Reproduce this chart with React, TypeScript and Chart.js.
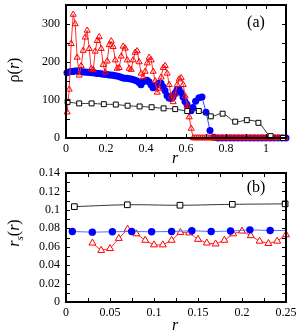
import React, { useEffect, useRef } from 'react';
import { Chart, registerables } from 'chart.js';
Chart.register(...registerables);

// ---------- Panel (a): density profiles ----------
const aRedR = [
  0.006, 0.016, 0.026, 0.036, 0.046, 0.056, 0.066, 0.076, 0.086, 0.096,
  0.106, 0.116, 0.126, 0.136, 0.146, 0.156, 0.166, 0.176, 0.186, 0.196,
  0.206, 0.216, 0.226, 0.236, 0.246, 0.256, 0.266, 0.276, 0.286, 0.296,
  0.306, 0.316, 0.326, 0.336, 0.346, 0.356, 0.366, 0.376, 0.386, 0.396,
  0.406, 0.416, 0.426, 0.436, 0.446, 0.456, 0.466, 0.476, 0.486, 0.496,
  0.506, 0.516, 0.526, 0.536, 0.546, 0.556, 0.566, 0.576, 0.586, 0.596,
  0.606, 0.616, 0.626, 0.636, 0.646, 0.656, 0.666, 0.676, 0.686, 0.696,
  0.706, 0.716, 0.726, 0.736, 0.746, 0.756, 0.766, 0.776, 0.786, 0.796,
  0.806, 0.816, 0.826, 0.836, 0.846, 0.856, 0.866, 0.876, 0.886, 0.896,
  0.906, 0.916, 0.926, 0.936, 0.946, 0.956, 0.966, 0.976, 0.986, 0.996,
  1.006, 1.016, 1.026, 1.036, 1.046, 1.056, 1.066, 1.076, 1.086, 1.096,
];
const aRedRho = [
  68, 128, 248, 325, 300, 212, 165, 190, 230, 265,
  283, 235, 182, 180, 228, 256, 266, 235, 193, 173,
  202, 245, 255, 240, 205, 183, 185, 215, 241, 236,
  205, 183, 180, 205, 225, 229, 200, 170, 160, 175,
  197, 212, 205, 175, 150, 120, 130, 160, 185, 190,
  170, 140, 110, 95, 115, 140, 155, 158, 140, 110,
  85, 55, 25, 0, 0, 0, 0, 0, 0, 0,
  0, 0, 0, 0, 0, 0, 0, 0, 0, 0,
  0, 0, 0, 0, 0, 0, 0, 0, 0, 0,
  0, 0, 0, 0, 0, 0, 0, 0, 0, 0,
  0, 0, 0, 0, 0, 0, 0, 0, 0, 0,
];

const aBlueR = [
  0.005, 0.015, 0.025, 0.035, 0.045, 0.055, 0.065, 0.075, 0.085, 0.095,
  0.105, 0.115, 0.125, 0.135, 0.145, 0.155, 0.165, 0.175, 0.185, 0.195,
  0.205, 0.215, 0.225, 0.235, 0.245, 0.255, 0.265, 0.275, 0.285, 0.295,
  0.305, 0.315, 0.325, 0.335, 0.345, 0.355, 0.365, 0.375, 0.385, 0.395,
  0.405, 0.415, 0.425, 0.435, 0.445, 0.455, 0.465, 0.475, 0.485, 0.495,
  0.505, 0.515, 0.525, 0.535, 0.545, 0.555, 0.565, 0.575, 0.585, 0.595,
  0.605, 0.615, 0.625, 0.635, 0.648, 0.665, 0.68, 0.7, 0.72, 0.74,
  0.76, 0.78, 0.8, 0.82, 0.84, 0.86, 0.88, 0.9, 0.92, 0.94,
  0.96, 0.98, 1.0, 1.02, 1.04, 1.06, 1.08, 1.1,
];
const aBlueRho = [
  172, 174, 175, 175, 176, 176, 175, 175, 174, 174,
  173, 173, 172, 172, 171, 170, 170, 169, 168, 168,
  167, 166, 166, 165, 164, 163, 162, 160, 158, 157,
  157, 156, 155, 154, 152, 150, 146, 140, 148, 150,
  152, 148, 140, 132, 135, 140, 145, 144, 135, 125,
  112, 105, 104, 108, 118, 127, 128, 120, 108, 96,
  88, 75, 72, 80, 97, 106, 108, 68, 20, 2,
  0, 0, 0, 0, 0, 0, 0, 0, 0, 0,
  0, 0, 0, 0, 0, 0, 0, 0,
];

const aBlackR = [
  0.008, 0.066, 0.128, 0.189, 0.249, 0.308, 0.368, 0.428, 0.488, 0.546,
  0.606, 0.664, 0.724, 0.783, 0.846, 0.904, 0.962, 1.023, 1.085,
];
const aBlackRho = [
  95, 91, 91, 89, 88, 85, 83, 81, 78, 76,
  71, 71, 57, 64, 43, 47, 40, 5, 0,
];

const aXLabels = [0, 0.2, 0.4, 0.6, 0.8, 1];
const aYLabels = [0, 100, 200, 300];
const aXMarks = [0.1, 0.2, 0.3, 0.4, 0.5, 0.6, 0.7, 0.8, 0.9, 1.0];
const aYMarks = [50, 100, 150, 200, 250, 300];

// ---------- Panel (b): r_s(r) ----------
const bBlackR = [0.0095, 0.0697, 0.1295, 0.189, 0.249];
const bBlackV = [0.1035, 0.1055, 0.105, 0.106, 0.1065];

const bBlueR = [0.0072, 0.0299, 0.0527, 0.0746, 0.0973, 0.12, 0.143, 0.165, 0.187, 0.209, 0.232, 0.25];
const bBlueV = [0.0765, 0.0758, 0.0762, 0.0765, 0.0762, 0.0765, 0.0773, 0.0765, 0.077, 0.0783, 0.0776, 0.0775];

const bRedR = [
  0.03, 0.04, 0.05, 0.06, 0.07, 0.08, 0.09, 0.1, 0.11, 0.12,
  0.13, 0.14, 0.15, 0.16, 0.17, 0.18, 0.19, 0.2, 0.21, 0.22,
  0.23, 0.24, 0.25,
];
const bRedV = [
  0.064, 0.056, 0.058, 0.069, 0.079, 0.074, 0.067, 0.062, 0.062, 0.067,
  0.0755, 0.075, 0.068, 0.064, 0.063, 0.067, 0.074, 0.077, 0.072, 0.066,
  0.0635, 0.066, 0.073,
];

const bXLabels = [0, 0.05, 0.1, 0.15, 0.2, 0.25];
const bYLabels = [0, 0.02, 0.04, 0.06, 0.08, 0.1, 0.12, 0.14];
const bXMarks = [0.025, 0.05, 0.075, 0.1, 0.125, 0.15, 0.175, 0.2, 0.225];
const bYMarks = [0.01, 0.02, 0.03, 0.04, 0.05, 0.06, 0.07, 0.08, 0.09, 0.1, 0.11, 0.12, 0.13];

const SERIF = '"Liberation Serif", "DejaVu Serif", serif';

type Run = { t: string; italic?: boolean; size?: number; dy?: number };

function drawRuns(ctx: CanvasRenderingContext2D, runs: Run[], cx: number, cy: number, rot: number, base: number) {
  ctx.save();
  ctx.translate(cx, cy);
  ctx.rotate(rot);
  ctx.textBaseline = 'alphabetic';
  ctx.textAlign = 'left';
  let total = 0;
  const widths: number[] = [];
  for (const r of runs) {
    ctx.font = `${r.italic ? 'italic ' : ''}${r.size || base}px ${SERIF}`;
    const w = ctx.measureText(r.t).width;
    widths.push(w);
    total += w;
  }
  let x = -total / 2;
  runs.forEach((r, i) => {
    ctx.font = `${r.italic ? 'italic ' : ''}${r.size || base}px ${SERIF}`;
    ctx.fillText(r.t, x, base * 0.32 + (r.dy || 0));
    x += widths[i];
  });
  ctx.restore();
}

const framePlugin = {
  id: 'frame',
  afterDatasetsDraw(chart: any, _args: any, opts: any) {
    const { ctx, chartArea: a, scales } = chart;
    const xs = scales.x;
    const ys = scales.y;
    const tl = opts.tickLen;
    ctx.save();
    ctx.strokeStyle = '#000';
    ctx.lineWidth = 1;
    ctx.beginPath();
    for (const v of opts.xMarks) {
      const px = Math.round(xs.getPixelForValue(v)) + 0.5;
      ctx.moveTo(px, a.bottom);
      ctx.lineTo(px, a.bottom - tl);
      ctx.moveTo(px, a.top);
      ctx.lineTo(px, a.top + tl);
    }
    for (const v of opts.yMarks) {
      const py = Math.round(ys.getPixelForValue(v)) + 0.5;
      ctx.moveTo(a.left, py);
      ctx.lineTo(a.left + tl, py);
      ctx.moveTo(a.right, py);
      ctx.lineTo(a.right - tl, py);
    }
    ctx.stroke();
    ctx.lineWidth = 2;
    ctx.strokeRect(a.left, a.top, a.right - a.left, a.bottom - a.top);
    ctx.fillStyle = '#000';
    ctx.font = `16px ${SERIF}`;
    ctx.textAlign = 'center';
    ctx.textBaseline = 'middle';
    ctx.fillText(opts.label, opts.labelX, opts.labelY);
    drawRuns(ctx, opts.xTitle, opts.xTitleX, opts.xTitleY, 0, 16);
    drawRuns(ctx, opts.yTitle, opts.yTitleX, opts.yTitleY, -Math.PI / 2, 16);
    ctx.restore();
  },
};

function fmt(v: number) {
  return String(Number(v.toFixed(3)));
}

function makeScales(xMin: number, xMax: number, yMin: number, yMax: number, xLab: number[], yLab: number[]) {
  return {
    x: {
      type: 'linear',
      min: xMin,
      max: xMax,
      grid: { display: false, drawTicks: false },
      border: { display: false },
      afterBuildTicks: (s: any) => { s.ticks = xLab.map((v) => ({ value: v })); },
      afterFit: (s: any) => { s.height = 30; s.paddingLeft = 0; s.paddingRight = 0; },
      ticks: {
        padding: 4,
        color: '#000',
        maxRotation: 0,
        autoSkip: false,
        font: { family: SERIF, size: 12 },
        callback: (v: number) => fmt(v),
      },
    },
    y: {
      type: 'linear',
      min: yMin,
      max: yMax,
      grid: { display: false, drawTicks: false },
      border: { display: false },
      afterBuildTicks: (s: any) => { s.ticks = yLab.map((v) => ({ value: v })); },
      afterFit: (s: any) => { s.width = 66; s.paddingTop = 0; s.paddingBottom = 0; },
      ticks: {
        padding: 6,
        color: '#000',
        autoSkip: false,
        font: { family: SERIF, size: 12 },
        callback: (v: number) => fmt(v),
      },
    },
  };
}

function pts(xs: number[], ys: number[]) {
  return xs.map((x, i) => ({ x, y: ys[i] }));
}

export default function App() {
  const topRef = useRef<HTMLCanvasElement>(null);
  const botRef = useRef<HTMLCanvasElement>(null);

  useEffect(() => {
    const top = new Chart(topRef.current as HTMLCanvasElement, {
      type: 'line',
      data: {
        datasets: [
          {
            data: pts(aBlackR, aBlackRho),
            borderColor: '#333',
            borderWidth: 1,
            tension: 0.4,
            pointStyle: 'rect',
            pointRadius: 3.5,
            pointBackgroundColor: '#fff',
            pointBorderColor: '#000',
            pointBorderWidth: 1,
            clip: false,
          },
          {
            data: pts(aRedR, aRedRho),
            borderColor: '#ff3030',
            borderWidth: 1,
            tension: 0,
            pointStyle: 'triangle',
            pointRadius: 3.5,
            pointBackgroundColor: 'rgba(255,255,255,0)',
            pointBorderColor: '#ff0000',
            pointBorderWidth: 1,
            clip: false,
          },
          {
            data: pts(aBlueR, aBlueRho),
            borderColor: '#3050ff',
            borderWidth: 1,
            tension: 0,
            pointStyle: 'circle',
            pointRadius: 3.5,
            pointBackgroundColor: '#0000ff',
            pointBorderColor: '#0000ff',
            pointBorderWidth: 0,
            clip: false,
          },
        ],
      },
      options: {
        animation: false,
        responsive: false,
        events: [],
        parsing: false,
        layout: { padding: { left: 0, right: 13, top: 4, bottom: 0 } },
        plugins: {
          legend: { display: false },
          tooltip: { enabled: false },
          frame: {
            tickLen: 4,
            xMarks: aXMarks,
            yMarks: aYMarks,
            label: '(a)',
            labelX: 256,
            labelY: 23,
            xTitle: [{ t: 'r', italic: true }],
            xTitleX: 175,
            xTitleY: 158,
            yTitle: [{ t: 'ρ(' }, { t: 'r', italic: true }, { t: ')' }],
            yTitleX: 14,
            yTitleY: 70,
          },
        },
        scales: makeScales(0, 1.1, 0, 350, aXLabels, aYLabels) as any,
      } as any,
      plugins: [framePlugin as any],
    });

    const bot = new Chart(botRef.current as HTMLCanvasElement, {
      type: 'line',
      data: {
        datasets: [
          {
            data: pts(bBlackR, bBlackV),
            borderColor: '#333',
            borderWidth: 1,
            tension: 0.4,
            pointStyle: 'rect',
            pointRadius: 4,
            pointBackgroundColor: '#fff',
            pointBorderColor: '#000',
            pointBorderWidth: 1,
            clip: false,
          },
          {
            data: pts(bBlueR, bBlueV),
            borderColor: '#5070ff',
            borderWidth: 1,
            tension: 0,
            pointStyle: 'circle',
            pointRadius: [3.7, 3.7, 3.7, 3.7, 3.7, 3.7, 3.7, 3.7, 3.7, 3.7, 3.7, 0],
            pointBackgroundColor: '#0000ff',
            pointBorderColor: '#0000ff',
            pointBorderWidth: 0,
            clip: false,
          },
          {
            data: pts(bRedR, bRedV),
            borderColor: '#ff3030',
            borderWidth: 1,
            tension: 0,
            pointStyle: 'triangle',
            pointRadius: 4,
            pointBackgroundColor: '#fff',
            pointBorderColor: '#ff0000',
            pointBorderWidth: 1,
            clip: false,
          },
        ],
      },
      options: {
        animation: false,
        responsive: false,
        events: [],
        parsing: false,
        layout: { padding: { left: 0, right: 13, top: 2, bottom: 0 } },
        plugins: {
          legend: { display: false },
          tooltip: { enabled: false },
          frame: {
            tickLen: 4,
            xMarks: bXMarks,
            yMarks: bYMarks,
            label: '(b)',
            labelX: 256,
            labelY: 20,
            xTitle: [{ t: 'r', italic: true }],
            xTitleX: 175,
            xTitleY: 157,
            yTitle: [
              { t: 'r', italic: true },
              { t: 's', italic: true, size: 11, dy: 4 },
              { t: '(' },
              { t: 'r', italic: true },
              { t: ')' },
            ],
            yTitleX: 14,
            yTitleY: 65,
          },
        },
        scales: makeScales(0, 0.25, 0, 0.14, bXLabels, bYLabels) as any,
      } as any,
      plugins: [framePlugin as any],
    });

    return () => {
      top.destroy();
      bot.destroy();
    };
  }, []);

  return (
    <div style={{ position: 'absolute', left: 0, top: 0, width: 299, height: 332, background: '#fff' }}>
      <canvas ref={topRef} width={299} height={168} style={{ position: 'absolute', left: 0, top: 0, display: 'block' }} />
      <canvas ref={botRef} width={299} height={164} style={{ position: 'absolute', left: 0, top: 168, display: 'block' }} />
    </div>
  );
}
